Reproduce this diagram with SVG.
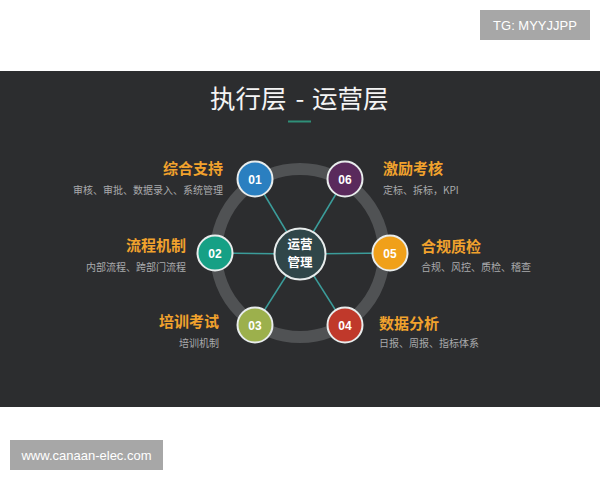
<svg xmlns="http://www.w3.org/2000/svg" width="600" height="480" viewBox="0 0 600 480">
<style>
.t{font-family:"Noto Sans CJK SC","Noto Sans",sans-serif}
.h{font-size:15px;font-weight:bold;fill:#f1a22d}
.s{font-size:10px;fill:#a9aaac}
.n{font-family:"Liberation Sans",Arial,sans-serif;font-size:12px;font-weight:bold;fill:#ffffff;text-anchor:middle}
.c{stroke:#e8ecec;stroke-width:2}
.e{stroke:#3b9c9a;stroke-width:1.5}
.r{text-anchor:end}
</style>
<rect x="0" y="0" width="600" height="480" fill="#ffffff"/>
<rect x="0" y="71" width="600" height="336" fill="#2c2d2f"/>
<g id="tg">
<rect x="480" y="10" width="110" height="30" fill="#a7a7a7"/>
<text x="535" y="30" font-family="Liberation Sans,Arial,sans-serif" font-size="13" fill="#ffffff" text-anchor="middle">TG: MYYJJPP</text>
</g>
<g id="url">
<rect x="10" y="440" width="153" height="30" fill="#a7a7a7"/>
<text x="86.5" y="460" font-family="Liberation Sans,Arial,sans-serif" font-size="13" fill="#ffffff" text-anchor="middle">www.canaan-elec.com</text>
</g>
<g id="title">
<text class="t" y="108" font-size="25.5" fill="#f4f4f4"><tspan x="210">执行层</tspan><tspan x="300" text-anchor="middle">-</tspan><tspan x="312">运营层</tspan></text>
<line x1="288" y1="121.5" x2="311" y2="121.5" stroke="#2f8f78" stroke-width="2"/>
</g>
<circle id="ring" cx="300" cy="253" r="84" fill="none" stroke="#505254" stroke-width="12"/>
<g id="connectors">
<line class="e" x1="300" y1="254" x2="255" y2="179"/>
<line class="e" x1="300" y1="254" x2="345" y2="179"/>
<line class="e" x1="300" y1="254" x2="215" y2="253"/>
<line class="e" x1="300" y1="254" x2="390" y2="253"/>
<line class="e" x1="300" y1="254" x2="255" y2="325"/>
<line class="e" x1="300" y1="254" x2="345" y2="325"/>
</g>
<g id="center">
<circle class="c" cx="300" cy="254" r="25.5" fill="#304649"/>
<text class="t" x="300" y="249" font-size="12.5" font-weight="bold" fill="#ffffff" text-anchor="middle">运营</text>
<text class="t" x="300" y="267" font-size="12.5" font-weight="bold" fill="#ffffff" text-anchor="middle">管理</text>
</g>
<g id="node01">
<circle class="c" cx="255" cy="179" r="17.5" fill="#2a7fc0"/>
<text class="n" x="255" y="183.5">01</text>
<text class="t h r" x="223" y="174">综合支持</text>
<text class="t s r" x="223" y="194">审核、审批、数据录入、系统管理</text>
</g>
<g id="node02">
<circle class="c" cx="215" cy="253" r="17.5" fill="#16a085"/>
<text class="n" x="215" y="257.5">02</text>
<text class="t h r" x="186" y="251">流程机制</text>
<text class="t s r" x="186" y="271">内部流程、跨部门流程</text>
</g>
<g id="node03">
<circle class="c" cx="255" cy="325" r="17.5" fill="#9cb04c"/>
<text class="n" x="255" y="329.5">03</text>
<text class="t h r" x="219" y="327">培训考试</text>
<text class="t s r" x="219" y="347">培训机制</text>
</g>
<g id="node04">
<circle class="c" cx="345" cy="325" r="17.5" fill="#c0392b"/>
<text class="n" x="345" y="329.5">04</text>
<text class="t h" x="379" y="329">数据分析</text>
<text class="t s" x="379" y="347">日报、周报、指标体系</text>
</g>
<g id="node05">
<circle class="c" cx="390" cy="253" r="17.5" fill="#f0a01a"/>
<text class="n" x="390" y="257.5">05</text>
<text class="t h" x="421" y="252">合规质检</text>
<text class="t s" x="421" y="271">合规、风控、质检、稽查</text>
</g>
<g id="node06">
<circle class="c" cx="345" cy="179" r="17.5" fill="#5a2a5c"/>
<text class="n" x="345" y="183.5">06</text>
<text class="t h" x="383" y="174">激励考核</text>
<text class="t s" x="383" y="194">定标、拆标，KPI</text>
</g>
</svg>
